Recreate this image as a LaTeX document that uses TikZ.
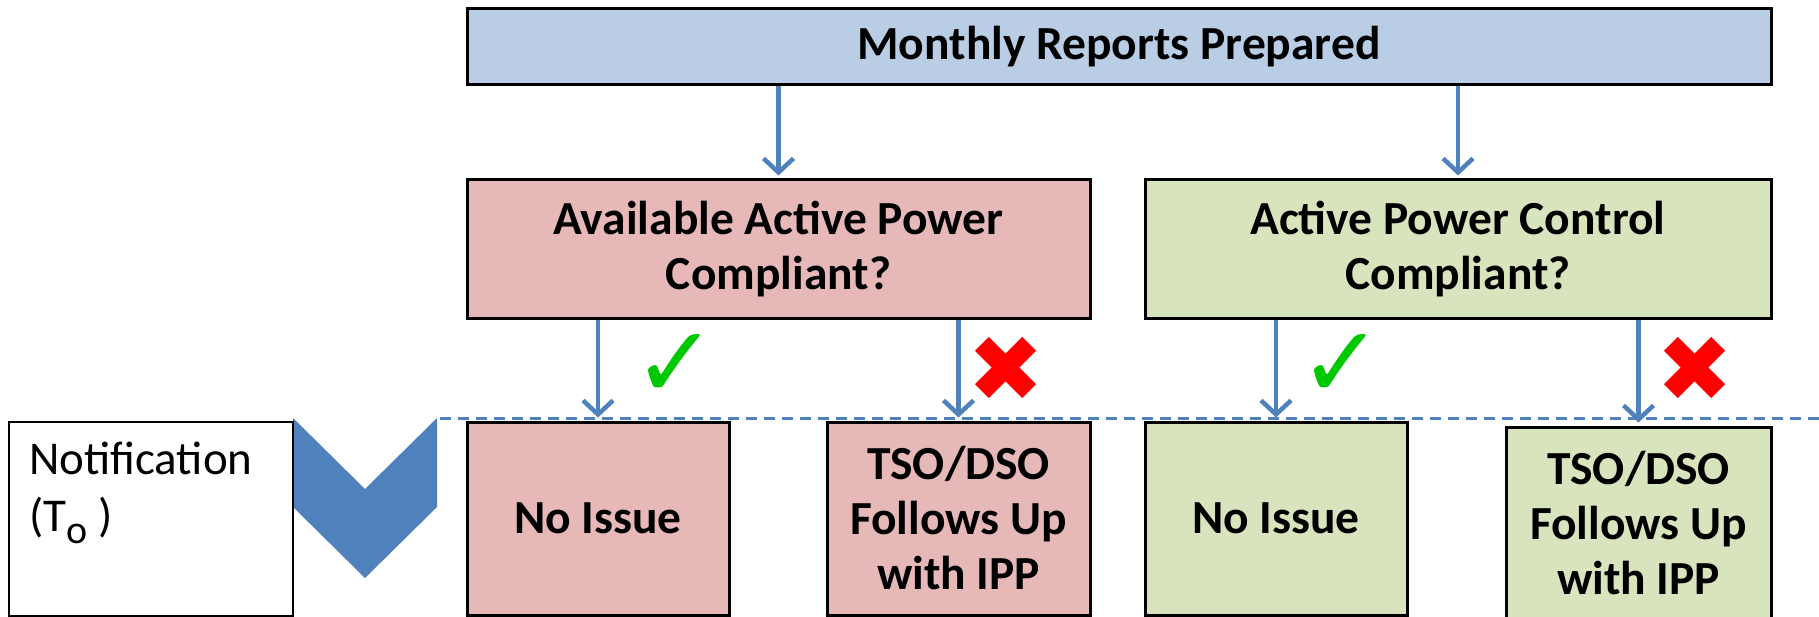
\documentclass[tikz,border=0pt]{standalone}
\usepackage{fontspec}
\setmainfont{Carlito}
\newfontfamily\symfont{DejaVu Sans}
\usepackage{xcolor}
\usetikzlibrary{arrows.meta}
\definecolor{hdrblue}{RGB}{185,205,229}
\definecolor{nopink}{RGB}{230,185,184}
\definecolor{yesgreen}{RGB}{215,228,189}
\definecolor{linkblue}{RGB}{79,129,189}
\definecolor{tickgreen}{RGB}{0,200,0}

\begin{document}
\begin{tikzpicture}[x=1pt,y=-1pt]
		\tikzstyle{every node}+=[inner sep=0pt]
		\tikzstyle{box}=[draw=black, line width=3pt, align=center, font=\fontsize{47.5}{55}\selectfont\bfseries]
		\tikzstyle{link}=[draw=linkblue, line width=4.5pt, -{Straight Barb[length=14pt,width=30pt]}, shorten >=3pt]
		\tikzstyle{cutline}=[draw=linkblue, line width=3pt, dash pattern=on 11pt off 7pt]
		\tikzstyle{tickmark}=[text=tickgreen, font=\symfont\fontsize{100}{100}\selectfont]
		\tikzstyle{crossmark}=[text=red, font=\symfont\fontsize{92}{92}\selectfont]
		\useasboundingbox (0,0) rectangle (1819,617);
		\node [box, fill=hdrblue, minimum width=1304pt, minimum height=76pt] (rep) at (1119,47) {Monthly Reports Prepared};
		\node [box, fill=nopink, minimum width=623pt, minimum height=139pt] (aap) at (778.5,249.5) {Available Active Power\\Compliant?};
		\node [box, fill=yesgreen, minimum width=626pt, minimum height=139pt] (apc) at (1458,249.5) {Active Power Control\\Compliant?};
		\coordinate (cutw) at (440,418);
		\coordinate (cute) at (1819,418);
		\draw [cutline] (cutw) -- (cute);
		\node [box, fill=nopink, minimum width=262pt, minimum height=193pt] (aapok) at (598,518.5) {No Issue};
		\node [box, fill=nopink, minimum width=263pt, minimum height=193pt] (aapfix) at (958.5,518.5) {TSO/DSO\\Follows Up\\with IPP};
		\node [box, fill=yesgreen, minimum width=262pt, minimum height=193pt] (apcok) at (1276,518.5) {No Issue};
		\node [box, fill=yesgreen, minimum width=265pt, minimum height=193pt] (apcfix) at (1638.5,523.5) {TSO/DSO\\Follows Up\\with IPP};
		\draw [link] (rep.south -| aap.north) -- (aap.north);
		\draw [link] (rep.south -| apc.north) -- (apc.north);
		\draw [link] (aap.south -| aapok.north) -- (aapok.north);
		\draw [link] (aap.south -| aapfix.north) -- (aapfix.north);
		\draw [link] (apc.south -| apcok.north) -- (apcok.north);
		\draw [link] (apc.south -| apcfix.north) -- (apcfix.north);
		\node [tickmark] (aapyes) at (675,366) {✓};
		\node [crossmark] (aapno) at (1006,369) {✖};
		\node [tickmark] (apcyes) at (1341,366) {✓};
		\node [crossmark] (apcno) at (1695,369) {✖};
		\fill [linkblue] (293,418) -- (365,489) -- (437,418) -- (437,507) -- (365,578) -- (293,507) -- cycle;
		\node [draw=black, line width=2pt, minimum width=284pt, minimum height=194pt] (note) at (151,519) {};
		\node [anchor=north west, align=left, font=\fontsize{47}{57}\selectfont] (notetxt) at ([shift={(21,21)}]note.north west) {Notification\\(T{\fontsize{40}{40}\selectfont\raisebox{-12pt}{o}} )};
		\end{tikzpicture}
\end{document}
